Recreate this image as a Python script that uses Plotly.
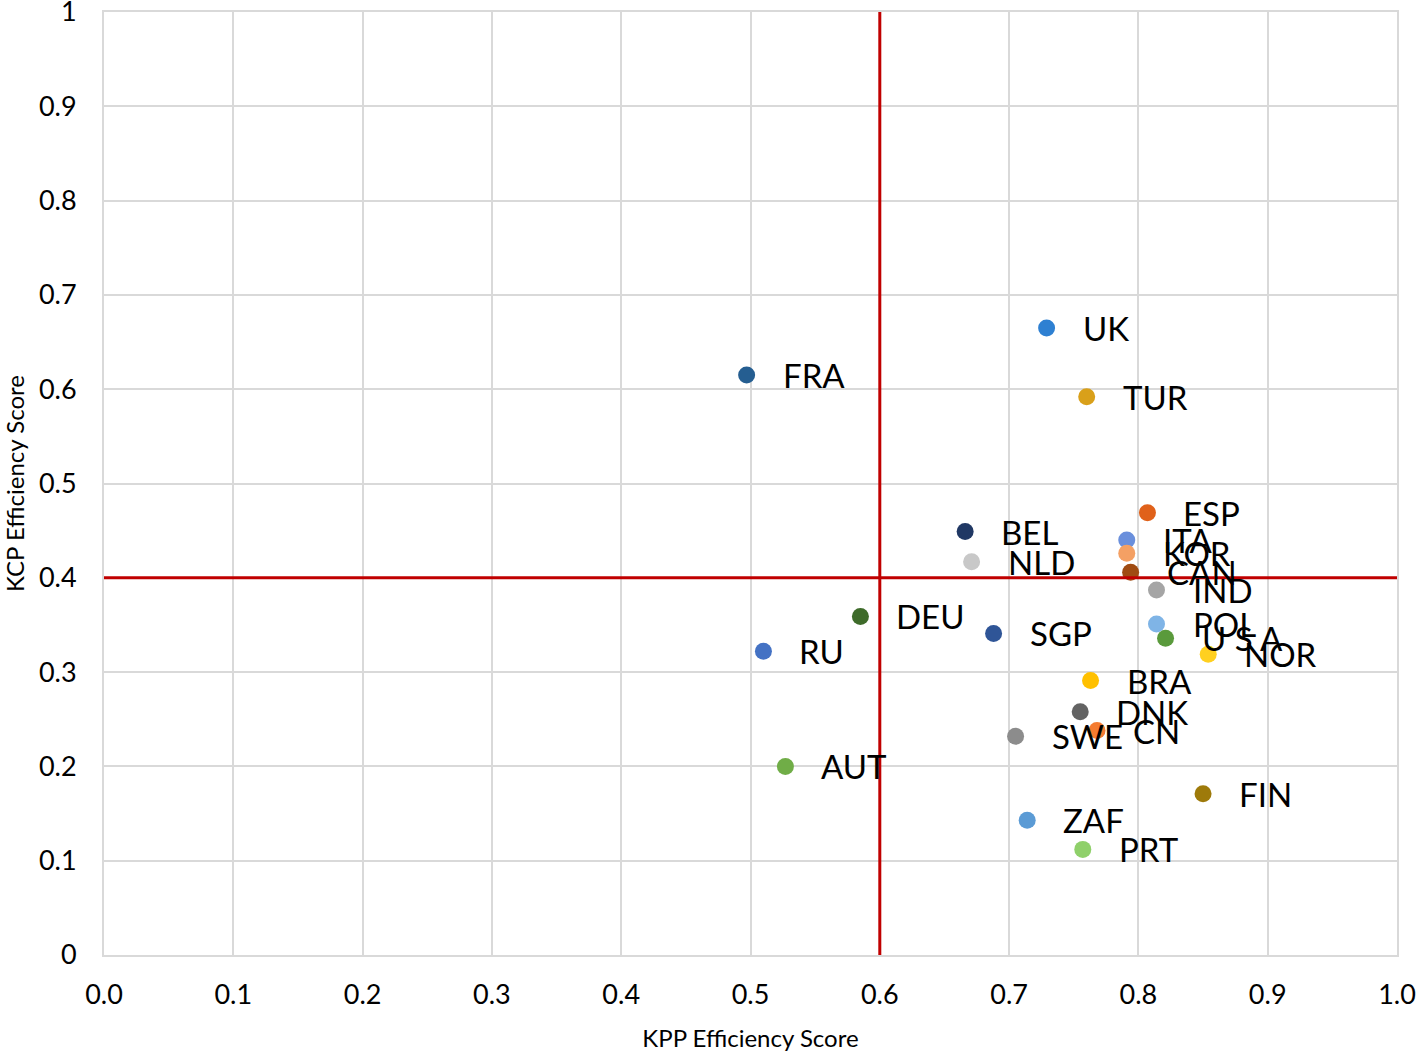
import plotly.graph_objects as go

countries = ["FRA", "UK", "TUR", "ESP", "ITA", "KOR", "CAN", "IND", "POL", "USA", "NOR",
             "BEL", "NLD", "DEU", "SGP", "RU", "BRA", "DNK", "CN", "SWE", "AUT", "FIN", "ZAF", "PRT"]
labels = ["FRA", "UK", "TUR", "ESP", "ITA", "KOR", "CAN", "IND", "POL", "U S A", "NOR",
          "BEL", "NLD", "DEU", "SGP", "RU", "BRA", "DNK", "CN", "SWE", "AUT", "FIN", "ZAF", "PRT"]
kpp = [0.497, 0.729, 0.760, 0.807, 0.791, 0.791, 0.794, 0.814, 0.814, 0.821, 0.854,
       0.666, 0.671, 0.585, 0.688, 0.510, 0.763, 0.755, 0.768, 0.705, 0.527, 0.850, 0.714, 0.757]
kcp = [0.615, 0.665, 0.592, 0.469, 0.440, 0.426, 0.406, 0.387, 0.351, 0.336, 0.319,
       0.449, 0.417, 0.359, 0.341, 0.322, 0.291, 0.258, 0.238, 0.232, 0.200, 0.171, 0.143, 0.112]
colors = ["#255E91", "#2E80D2", "#D9A01A", "#E0611A", "#6A8FDC", "#F4A064", "#A04B12", "#A5A5A5",
          "#7FB4E6", "#5A9A3C", "#FFD020", "#203864", "#C8C8C8", "#3E6B2A", "#2F5597", "#4472C4",
          "#FFC000", "#636363", "#F47B30", "#8C8C8C", "#70AD47", "#9E7A0A", "#5B9BD5", "#8FD06A"]

kpp_threshold = 0.6
kcp_threshold = 0.4

x_ticks = [0.0, 0.1, 0.2, 0.3, 0.4, 0.5, 0.6, 0.7, 0.8, 0.9, 1.0]
x_ticktext = ["0.0", "0.1", "0.2", "0.3", "0.4", "0.5", "0.6", "0.7", "0.8", "0.9", "1.0"]
y_ticks = [0, 0.1, 0.2, 0.3, 0.4, 0.5, 0.6, 0.7, 0.8, 0.9, 1.0]
y_ticktext = ["0", "0.1", "0.2", "0.3", "0.4", "0.5", "0.6", "0.7", "0.8", "0.9", "1"]

FONT = "Lato"

fig = go.Figure()

fig.add_trace(go.Scatter(
    x=kpp, y=kcp, mode="markers",
    marker=dict(size=17, color=colors, line=dict(width=0)),
    text=countries, hoverinfo="text+x+y", showlegend=False, cliponaxis=False,
))

for xv, yv, lab in zip(kpp, kcp, labels):
    fig.add_annotation(x=xv, y=yv, text=lab, showarrow=False, xanchor="left", yanchor="middle",
                       xshift=34, font=dict(family=FONT, size=33, color="#000000"))

fig.add_shape(type="line", x0=kpp_threshold, x1=kpp_threshold, y0=0, y1=1, xref="x", yref="y",
              line=dict(color="#C00000", width=3))
fig.add_shape(type="line", x0=0, x1=1, y0=kcp_threshold, y1=kcp_threshold, xref="x", yref="y",
              line=dict(color="#C00000", width=3))

fig.update_layout(
    width=1418, height=1055,
    margin=dict(l=104, r=21, t=12, b=100),
    paper_bgcolor="white", plot_bgcolor="white",
    font=dict(family=FONT, color="#000000"),
    xaxis=dict(range=[0, 1.0], tickvals=x_ticks, ticktext=x_ticktext, showgrid=True,
               gridcolor="#D9D9D9", gridwidth=2, zeroline=False, showline=True,
               linecolor="#D9D9D9", linewidth=2, mirror=True, ticks="", automargin=False,
               ticklabelstandoff=15, ticklabeloverflow="allow",
               tickfont=dict(family=FONT, size=27, color="#000000"),
               title=dict(text="KPP Efficiency Score", font=dict(family=FONT, size=24, color="#000000"),
                          standoff=21)),
    yaxis=dict(range=[0, 1.0], tickvals=y_ticks, ticktext=y_ticktext, showgrid=True,
               gridcolor="#D9D9D9", gridwidth=2, zeroline=False, showline=True,
               linecolor="#D9D9D9", linewidth=2, mirror=True, ticks="", automargin=False,
               ticklabelstandoff=20, ticklabeloverflow="allow",
               tickfont=dict(family=FONT, size=27, color="#000000"),
               title=dict(text="KCP Efficiency Score", font=dict(family=FONT, size=24, color="#000000"),
                          standoff=20)),
)

fig.write_html("out.html", config={"displayModeBar": False},
               post_script="document.body.style.margin='0';document.body.style.overflow='hidden';")
